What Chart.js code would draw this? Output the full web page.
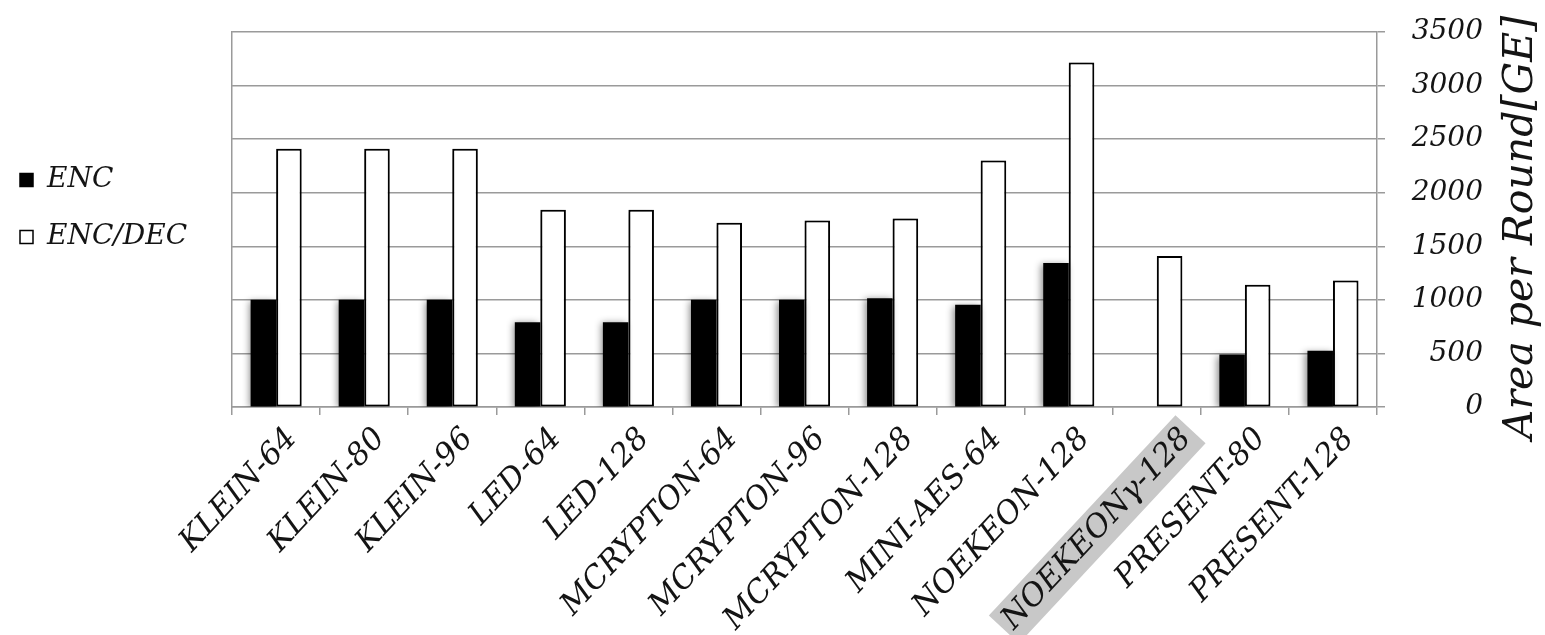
<!DOCTYPE html>
<html>
<head>
<meta charset="utf-8">
<script src="https://cdn.jsdelivr.net/npm/chart.js@4/dist/chart.umd.min.js"></script>
<style>
  html, body { margin: 0; padding: 0; background: #ffffff; }
  #wrap { width: 1545px; height: 635px; }
</style>
</head>
<body>
<div id="wrap"><canvas id="c" width="1545" height="635"></canvas></div>
<script>
// Cipher variants along the x axis
const categories = ['KLEIN-64', 'KLEIN-80', 'KLEIN-96', 'LED-64', 'LED-128',
  'MCRYPTON-64', 'MCRYPTON-96', 'MCRYPTON-128', 'MINI-AES-64', 'NOEKEON-128',
  'NOEKEONγ-128', 'PRESENT-80', 'PRESENT-128'];

// Area per round in gate equivalents
const encValues    = [1000, 1000, 1000, 790, 790, 1000, 1000, 1015, 955, 1345, null, 490, 525];
const encDecValues = [2410, 2410, 2410, 1840, 1840, 1720, 1740, 1760, 2300, 3215, 1410, 1140, 1180];

const seriesNames = ['ENC', 'ENC/DEC'];
const yTicks = [0, 500, 1000, 1500, 2000, 2500, 3000, 3500];
const yTitle = 'Area per Round[GE]';
const highlighted = 'NOEKEONγ-128';

const FONT = '"DejaVu Serif", serif';
const GRID = '#9a9a9a';
const INK = '#141414';

// Soft drop shadow behind the bars
const barShadow = {
  id: 'barShadow',
  beforeDatasetsDraw(chart) {
    const ctx = chart.ctx;
    ctx.save();
    ctx.shadowColor = 'rgba(0,0,0,0.45)';
    ctx.shadowBlur = 7;
    ctx.shadowOffsetX = -2;
    ctx.shadowOffsetY = 1;
  },
  afterDatasetsDraw(chart) {
    chart.ctx.restore();
  }
};

// Nudge the legend block up and to the left
const legendNudge = {
  id: 'legendNudge',
  afterLayout(chart) {
    const lg = chart.legend;
    if (lg) {
      lg.top -= 11; lg.bottom -= 11;
      lg.left -= 9; lg.right -= 9;
    }
  }
};

// Value-axis title, reading bottom to top, right of the tick labels
const rightTitle = {
  id: 'rightTitle',
  afterDraw(chart) {
    const ctx = chart.ctx;
    const area = chart.chartArea;
    ctx.save();
    ctx.translate(chart.width - 24, (area.top + area.bottom) / 2 + 8);
    ctx.rotate(-Math.PI / 2);
    ctx.font = 'italic 41px ' + FONT;
    ctx.fillStyle = INK;
    ctx.textAlign = 'center';
    ctx.textBaseline = 'middle';
    ctx.fillText(yTitle, 0, 0);
    ctx.restore();
  }
};

new Chart(document.getElementById('c'), {
  type: 'bar',
  data: {
    labels: categories,
    datasets: [
      {
        label: seriesNames[0],
        data: encValues,
        backgroundColor: '#000000',
        borderColor: '#000000',
        borderWidth: 0,
        categoryPercentage: 0.58,
        barPercentage: 1.0
      },
      {
        label: seriesNames[1],
        data: encDecValues,
        backgroundColor: '#ffffff',
        borderColor: '#000000',
        borderWidth: 2,
        borderSkipped: false,
        categoryPercentage: 0.58,
        barPercentage: 1.0
      }
    ]
  },
  options: {
    responsive: false,
    animation: false,
    devicePixelRatio: 1,
    layout: { padding: { top: 32, left: 0, right: 62, bottom: 0 } },
    plugins: {
      tooltip: { enabled: false },
      legend: {
        position: 'left',
        fullSize: false,
        labels: {
          color: INK,
          font: { family: FONT, size: 28, style: 'italic' },
          boxWidth: 13,
          boxHeight: 13,
          padding: 29,
          generateLabels(chart) {
            return chart.data.datasets.map((ds, i) => ({
              text: ds.label,
              fillStyle: ds.backgroundColor,
              strokeStyle: '#000000',
              lineWidth: 1.5,
              hidden: false,
              datasetIndex: i,
              fontColor: INK
            }));
          }
        }
      }
    },
    scales: {
      x: {
        grid: {
          offset: true,
          drawOnChartArea: false,
          tickColor: GRID,
          tickLength: 8,
          lineWidth: 1.5
        },
        border: { display: true, color: GRID, width: 1.5 },
        ticks: {
          color: INK,
          font: { family: FONT, size: 31, style: 'italic' },
          minRotation: 47,
          maxRotation: 47,
          autoSkip: false,
          padding: 6,
          labelOffset: 16,
          showLabelBackdrop: (c) => categories[c.index] === highlighted,
          backdropColor: '#c8c8c8',
          backdropPadding: { top: 2, bottom: 2, left: 6, right: 6 }
        },
        afterFit(scale) { scale.height = 228; }
      },
      // left frame line of the plot; carries no data
      yFrame: {
        type: 'linear',
        position: 'left',
        grid: { drawOnChartArea: false, drawTicks: false },
        border: { display: true, color: GRID, width: 1.5 },
        ticks: { display: false },
        afterFit(scale) { scale.width = 26; }
      },
      y: {
        position: 'right',
        min: 0,
        max: 3500,
        afterBuildTicks(scale) { scale.ticks = yTicks.map(v => ({ value: v })); },
        grid: { color: GRID, lineWidth: 1.5, tickLength: 8, tickColor: GRID },
        border: { display: true, color: GRID, width: 1.5 },
        ticks: {
          color: INK,
          font: { family: FONT, size: 28, style: 'italic' },
          crossAlign: 'far',
          padding: 20,
          callback: (v) => String(v)
        },
        afterFit(scale) {
          scale.width = 106;
          scale.paddingTop = 0;
          scale.paddingBottom = 0;
        }
      }
    }
  },
  plugins: [barShadow, legendNudge, rightTitle]
});
</script>
</body>
</html>
